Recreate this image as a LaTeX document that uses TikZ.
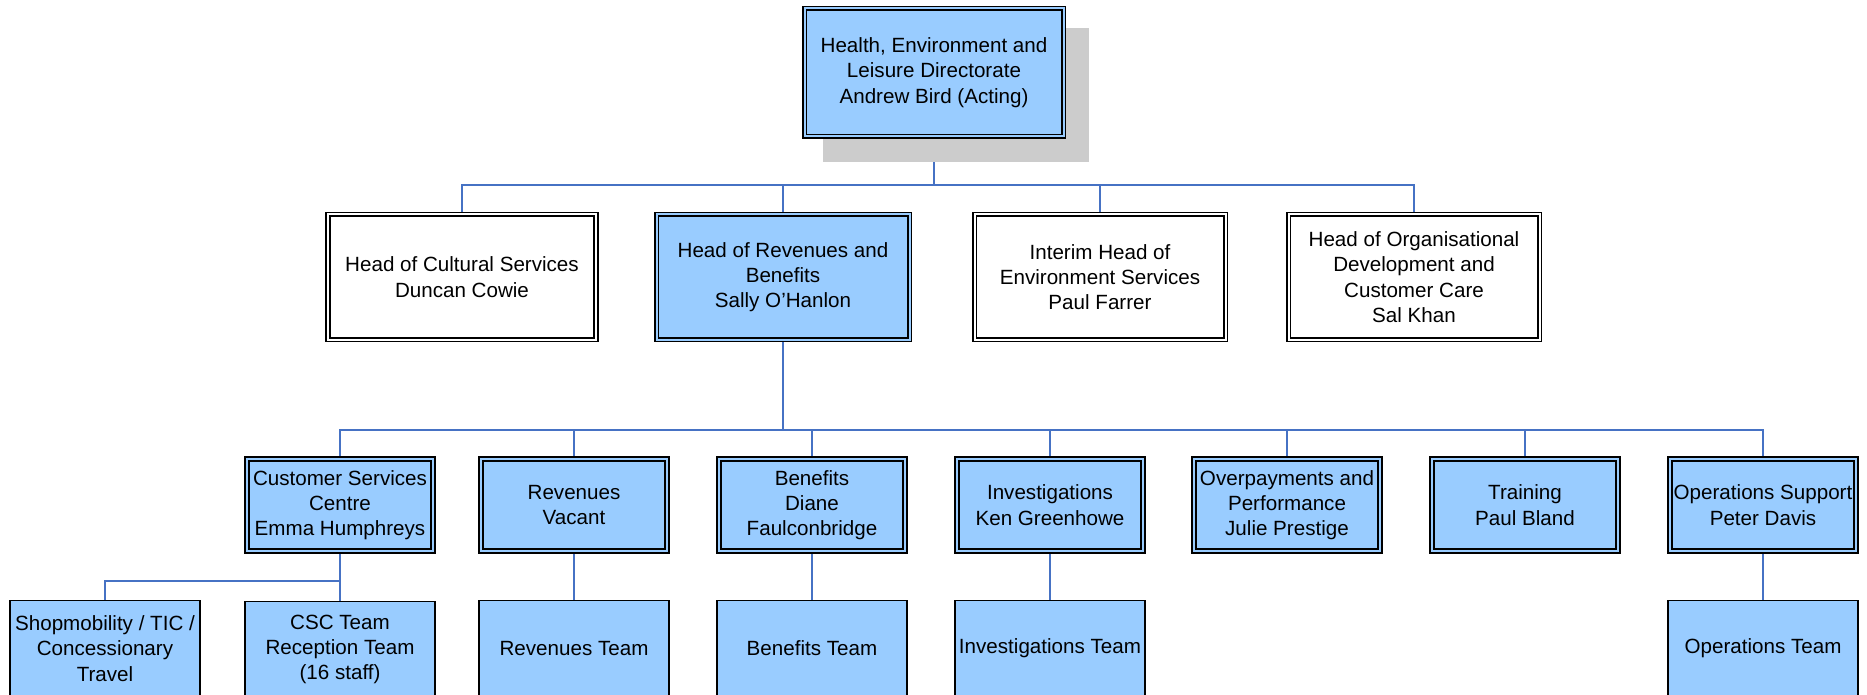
\documentclass[tikz,border=0pt]{standalone}
\usepackage{fontspec}
\setmainfont{Liberation Sans}
\usetikzlibrary{backgrounds}
\definecolor{boxblue}{HTML}{99CCFF}
\definecolor{connblue}{RGB}{70,114,196}
\definecolor{shadowgray}{HTML}{CCCCCC}
\tikzset{
  base/.style={rectangle, align=center, inner sep=0pt, text=black,
    font=\fontsize{10.3}{12.65}\selectfont},
  dblbox/.style={base, draw=black, line width=0.85pt, double distance=1pt},
  bluebox/.style={dblbox, fill=boxblue, double=boxblue},
  whitebox/.style={dblbox, fill=white, double=white},
  teambox/.style={base, draw=black, line width=0.75pt, fill=boxblue,
    minimum width=95pt, minimum height=48pt},
  lvtwo/.style={minimum height=62.5pt},
  lvthree/.style={bluebox, minimum width=93pt, minimum height=46pt},
  conn/.style={draw=connblue, line width=1pt}
}
\begin{document}
\begin{tikzpicture}[x=0.5pt,y=-0.5pt]
\useasboundingbox (0,0) rectangle (1867,695);
\clip (0,0) rectangle (1867,695);
% shadow of top box
\fill[shadowgray] (823,28) rectangle (1089,162);
% top
\node[bluebox, minimum width=129.5pt, minimum height=64pt] (top) at (934,72.5)
  {Health, Environment and\\Leisure Directorate\\Andrew Bird (Acting)};
% level 2
\node[whitebox, lvtwo, minimum width=134pt] (cult) at (462,277)
  {Head of Cultural Services\\Duncan Cowie};
\node[bluebox, lvtwo, minimum width=126.5pt] (rev) at (783,277)
  {Head of Revenues and\\Benefits\\Sally O’Hanlon};
\node[whitebox, lvtwo, minimum width=125.5pt] (env) at (1100,277)
  {Interim Head of\\Environment Services\\Paul Farrer};
\node[whitebox, lvtwo, minimum width=125.5pt] (org) at (1414,277)
  {Head of Organisational\\Development and\\Customer Care\\Sal Khan};
% level 3
\node[lvthree] (csc) at (340,505) {Customer Services\\Centre\\Emma Humphreys};
\node[lvthree] (revs) at (574,505) {Revenues\\Vacant};
\node[lvthree] (ben) at (812,505) {Benefits\\Diane\\Faulconbridge};
\node[lvthree] (inv) at (1050,505) {Investigations\\Ken Greenhowe};
\node[lvthree] (ovp) at (1287,505) {Overpayments and\\Performance\\Julie Prestige};
\node[lvthree] (trn) at (1525,505) {Training\\Paul Bland};
\node[lvthree] (ops) at (1763,505) {Operations Support\\Peter Davis};
% level 4
\node[teambox] (shop) at (105,648.5) {Shopmobility / TIC /\\Concessionary\\Travel};
\node[teambox] (csct) at (340,649.5) {CSC Team\\Reception Team\\(16 staff)};
\node[teambox] (revt) at (574,648.5) {Revenues Team};
\node[teambox] (bent) at (812,648.5) {Benefits Team};
\node[teambox] (invt) at (1050,648.5) {Investigations Team};
\node[teambox] (opst) at (1763,648.5) {Operations Team};
% bus coordinates
\coordinate (busa) at (934,185);
\coordinate (busb) at (783,430);
\coordinate (busc) at (340,581);
\begin{scope}[on background layer]
  \draw[conn] (top.south) -- (busa);
  \draw[conn] (cult.north) |- (org.north |- busa) -- (org.north);
  \draw[conn] (rev.north) -- (rev.north |- busa);
  \draw[conn] (env.north) -- (env.north |- busa);
  \draw[conn] (rev.south) -- (busb);
  \draw[conn] (csc.north) |- (ops.north |- busb) -- (ops.north);
  \foreach \n in {revs,ben,inv,ovp,trn}
    \draw[conn] (\n.north) -- (\n.north |- busb);
  \draw[conn] (csc.south) -- (csct.north);
  \draw[conn] (busc) -| (shop.north);
  \draw[conn] (revs.south) -- (revt.north);
  \draw[conn] (ben.south) -- (bent.north);
  \draw[conn] (inv.south) -- (invt.north);
  \draw[conn] (ops.south) -- (opst.north);
\end{scope}
\end{tikzpicture}
\end{document}
